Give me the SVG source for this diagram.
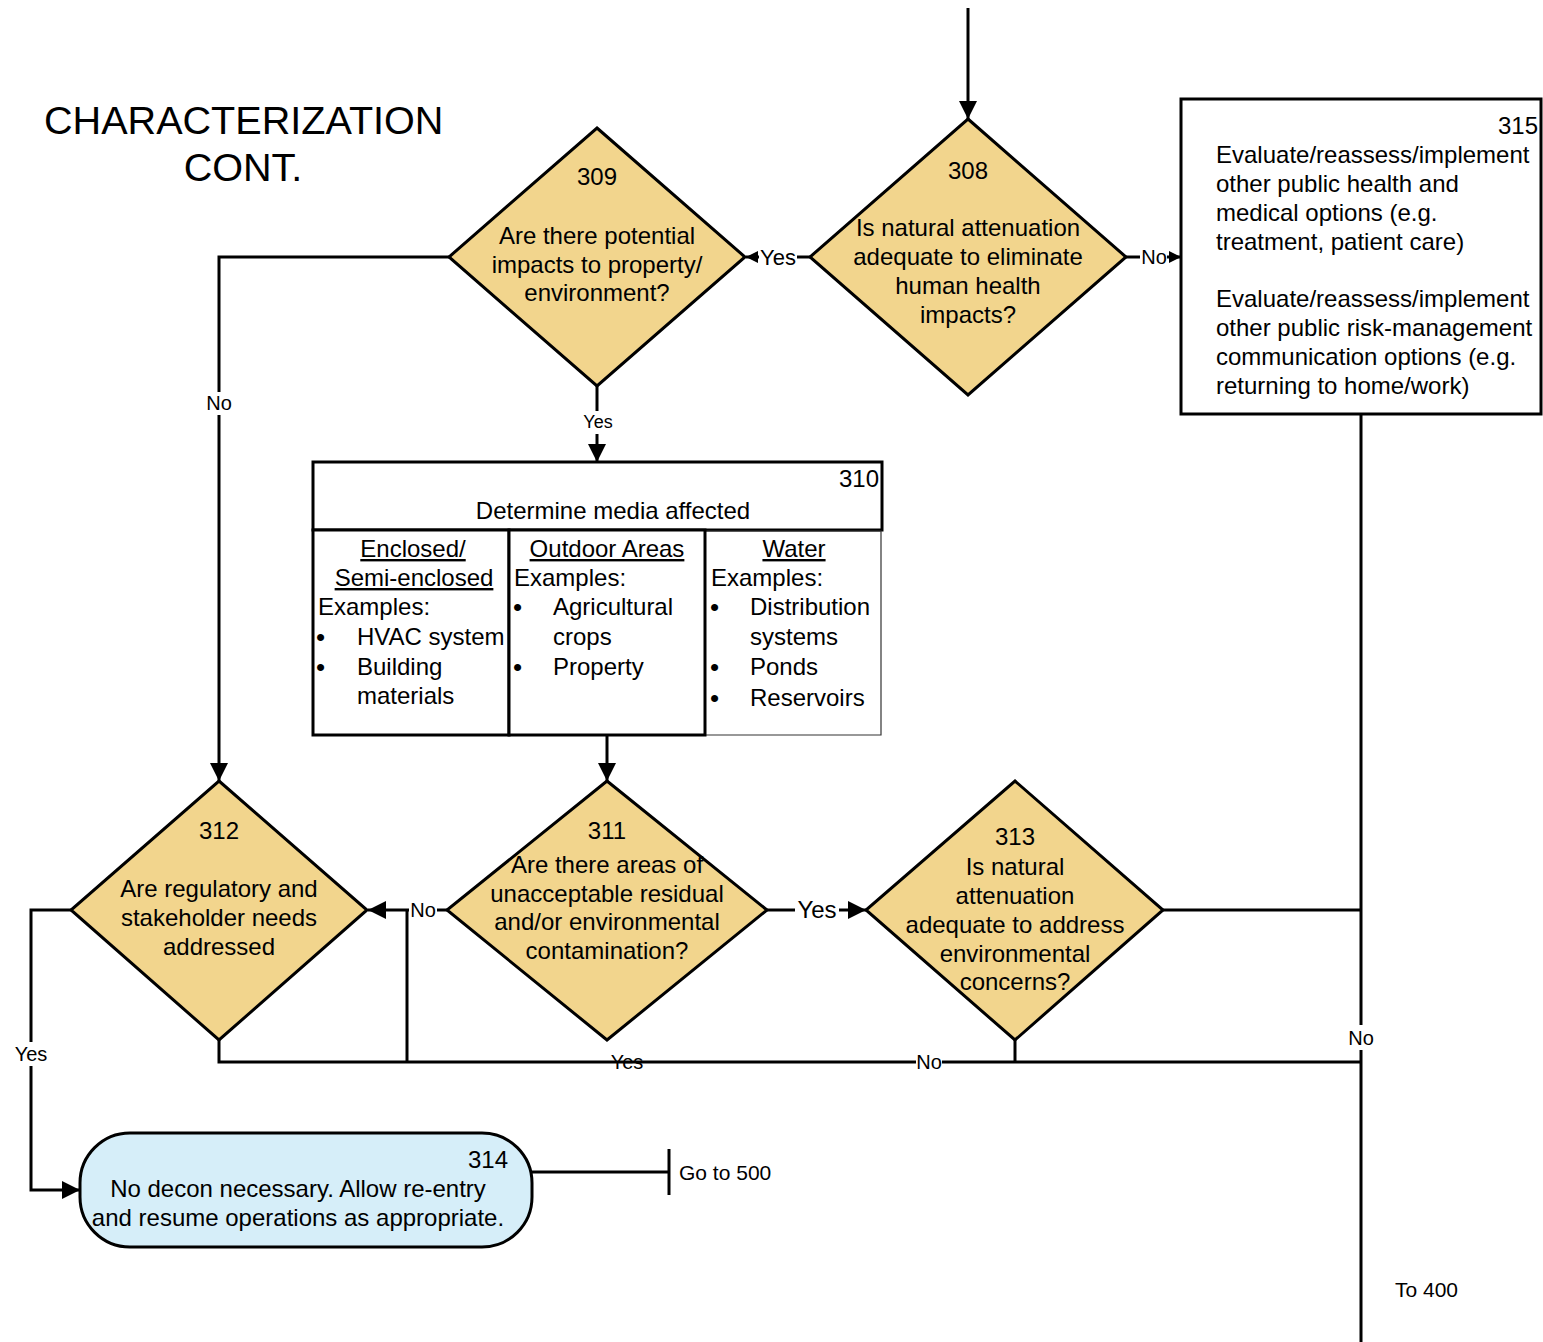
<svg xmlns="http://www.w3.org/2000/svg" width="1543" height="1342" viewBox="0 0 1543 1342">
  <style>
    text { font-family: "Liberation Sans", Arial, sans-serif; fill: #000; }
    .t24 { font-size: 24px; }
    .c { text-anchor: middle; }
    .r { text-anchor: end; }
    .lbl { font-size: 20px; text-anchor: middle; }
    .u { text-decoration: underline; }
    .bul { font-size: 26px; }
    .dia { fill: #F2D58D; stroke: #000; stroke-width: 3; }
    .box { fill: #fff; stroke: #000; stroke-width: 3; }
    .term { fill: #D6EEF9; stroke: #000; stroke-width: 3; }
    .ln { fill: none; stroke: #000; stroke-width: 3; }
    .arr { fill: none; stroke: #000; stroke-width: 3; marker-end: url(#ah); }
    .arrs { fill: none; stroke: #000; stroke-width: 3; marker-end: url(#ahs); }
  </style>
  <defs>
    <marker id="ah" viewBox="0 0 18 18" refX="18" refY="9" markerWidth="18" markerHeight="18" markerUnits="userSpaceOnUse" orient="auto">
      <path d="M0,0 L18,9 L0,18 Z" fill="#000"/>
    </marker>
    <marker id="ahs" viewBox="0 0 12 12" refX="12" refY="6" markerWidth="12" markerHeight="12" markerUnits="userSpaceOnUse" orient="auto">
      <path d="M0,0 L12,6 L0,12 Z" fill="#000"/>
    </marker>
  </defs>

  <!-- Heading -->
  <g id="title">
    <text x="44" y="134" font-size="39.6">CHARACTERIZATION</text>
    <text x="243" y="181" font-size="39.6" class="c">CONT.</text>
  </g>

  <!-- Connectors -->
  <g id="connectors">
    <path class="arr" d="M968,8 V119"/>
    <!-- 308 Yes to 309 -->
    <path class="ln" d="M810,257 H797"/>
    <path class="arrs" d="M759,257 H746"/>
    <!-- 308 No to 315 -->
    <path class="ln" d="M1126,257 H1140"/>
    <path class="arrs" d="M1167,257 H1181"/>
    <!-- 309 No to 312 -->
    <path class="ln" d="M449,257 H219 V392"/>
    <path class="arr" d="M219,415 V781"/>
    <!-- 309 Yes to 310 -->
    <path class="ln" d="M597,386 V411"/>
    <path class="arr" d="M597,434 V462"/>
    <!-- 310 to 311 -->
    <path class="arr" d="M607,735 V781"/>
    <!-- 311 No to 312 -->
    <path class="ln" d="M447,910 H437"/>
    <path class="arr" d="M409,910 H368"/>
    <path class="ln" d="M407,910 V1062"/>
    <!-- 311 Yes to 313 -->
    <path class="ln" d="M767,910 H795"/>
    <path class="arr" d="M839,910 H866"/>
    <!-- 312 Yes to 314 -->
    <path class="ln" d="M71,910 H31 V1042"/>
    <path class="arr" d="M31,1066 V1190 H80"/>
    <!-- bottom collector -->
    <path class="ln" d="M219,1040 V1062 H916"/>
    <path class="ln" d="M942,1062 H1361"/>
    <path class="ln" d="M1015,1040 V1062"/>
    <!-- 313 out and 315 down -->
    <path class="ln" d="M1163,910 H1361"/>
    <path class="ln" d="M1361,414 V1025"/>
    <path class="ln" d="M1361,1050 V1342"/>
    <!-- 314 to off-page -->
    <path class="ln" d="M532,1172 H669"/>
    <path class="ln" d="M669,1149 V1195"/>

    <text x="778" y="265" font-size="22" class="c">Yes</text>
    <text x="1154" y="264" class="lbl">No</text>
    <text x="219" y="410" class="lbl">No</text>
    <text x="598" y="428" font-size="18" class="c">Yes</text>
    <text x="423" y="917" class="lbl">No</text>
    <text x="817" y="918" class="t24 c">Yes</text>
    <text x="31" y="1061" class="lbl">Yes</text>
    <text x="627" y="1069" class="lbl">Yes</text>
    <text x="929" y="1069" class="lbl">No</text>
    <text x="1361" y="1045" class="lbl">No</text>
    <text x="679" y="1180" font-size="21">Go to 500</text>
    <text x="1395" y="1297" font-size="21">To 400</text>
  </g>

  <!-- 308 -->
  <g id="n308">
    <polygon class="dia" points="968,119 1126,257 968,395 810,257"/>
    <text class="t24 c" x="968" y="179">308</text>
    <text class="t24 c" x="968" y="236">Is natural attenuation</text>
    <text class="t24 c" x="968" y="265">adequate to eliminate</text>
    <text class="t24 c" x="968" y="294">human health</text>
    <text class="t24 c" x="968" y="323">impacts?</text>
  </g>

  <!-- 309 -->
  <g id="n309">
    <polygon class="dia" points="597,128 745,257 597,386 449,257"/>
    <text class="t24 c" x="597" y="185">309</text>
    <text class="t24 c" x="597" y="244">Are there potential</text>
    <text class="t24 c" x="597" y="272.5">impacts to property/</text>
    <text class="t24 c" x="597" y="301">environment?</text>
  </g>

  <!-- 315 -->
  <g id="n315">
    <rect class="box" x="1181" y="99" width="360" height="315"/>
    <text class="t24 r" x="1538" y="134">315</text>
    <text class="t24" x="1216" y="163">Evaluate/reassess/implement</text>
    <text class="t24" x="1216" y="192">other public health and</text>
    <text class="t24" x="1216" y="221">medical options (e.g.</text>
    <text class="t24" x="1216" y="250">treatment, patient care)</text>
    <text class="t24" x="1216" y="307">Evaluate/reassess/implement</text>
    <text class="t24" x="1216" y="336">other public risk-management</text>
    <text class="t24" x="1216" y="365">communication options (e.g.</text>
    <text class="t24" x="1216" y="394">returning to home/work)</text>
  </g>

  <!-- 310 -->
  <g id="n310">
    <rect class="box" x="313" y="462" width="569" height="68"/>
    <text class="t24 r" x="879" y="487">310</text>
    <text class="t24 c" x="613" y="519">Determine media affected</text>
    <path d="M705,531 H881 V735 H705" fill="none" stroke="#333" stroke-width="1.2"/>
    <rect class="box" x="313" y="530" width="196" height="205" fill="none"/>
    <rect class="box" x="509" y="530" width="196" height="205" fill="none"/>

    <text class="t24 c u" x="413" y="557">Enclosed/</text>
    <text class="t24 c u" x="414" y="586">Semi-enclosed</text>
    <text class="t24" x="318" y="615">Examples:</text>
    <text class="bul" x="316" y="646">•</text>
    <text class="t24" x="357" y="645">HVAC system</text>
    <text class="bul" x="316" y="676">•</text>
    <text class="t24" x="357" y="675">Building</text>
    <text class="t24" x="357" y="704">materials</text>

    <text class="t24 c u" x="607" y="557">Outdoor Areas</text>
    <text class="t24" x="514" y="586">Examples:</text>
    <text class="bul" x="513" y="616">•</text>
    <text class="t24" x="553" y="615">Agricultural</text>
    <text class="t24" x="553" y="645">crops</text>
    <text class="bul" x="513" y="676">•</text>
    <text class="t24" x="553" y="675">Property</text>

    <text class="t24 c u" x="794" y="557">Water</text>
    <text class="t24" x="711" y="586">Examples:</text>
    <text class="bul" x="710" y="616">•</text>
    <text class="t24" x="750" y="615">Distribution</text>
    <text class="t24" x="750" y="645">systems</text>
    <text class="bul" x="710" y="676">•</text>
    <text class="t24" x="750" y="675">Ponds</text>
    <text class="bul" x="710" y="707">•</text>
    <text class="t24" x="750" y="706">Reservoirs</text>
  </g>

  <!-- 312 -->
  <g id="n312">
    <polygon class="dia" points="219,781 367,910 219,1040 71,910"/>
    <text class="t24 c" x="219" y="839">312</text>
    <text class="t24 c" x="219" y="897">Are regulatory and</text>
    <text class="t24 c" x="219" y="926">stakeholder needs</text>
    <text class="t24 c" x="219" y="955">addressed</text>
  </g>

  <!-- 311 -->
  <g id="n311">
    <polygon class="dia" points="607,781 767,910 607,1040 447,910"/>
    <text class="t24 c" x="607" y="839">311</text>
    <text class="t24 c" x="607" y="873">Are there areas of</text>
    <text class="t24 c" x="607" y="901.5">unacceptable residual</text>
    <text class="t24 c" x="607" y="930">and/or environmental</text>
    <text class="t24 c" x="607" y="959">contamination?</text>
  </g>

  <!-- 313 -->
  <g id="n313">
    <polygon class="dia" points="1015,781 1163,910 1015,1040 866,910"/>
    <text class="t24 c" x="1015" y="845">313</text>
    <text class="t24 c" x="1015" y="875">Is natural</text>
    <text class="t24 c" x="1015" y="904">attenuation</text>
    <text class="t24 c" x="1015" y="933">adequate to address</text>
    <text class="t24 c" x="1015" y="961.5">environmental</text>
    <text class="t24 c" x="1015" y="990">concerns?</text>
  </g>

  <!-- 314 -->
  <g id="n314">
    <rect class="term" x="80" y="1133" width="452" height="114" rx="50" ry="50"/>
    <text class="t24 r" x="508" y="1168">314</text>
    <text class="t24 c" x="298" y="1197">No decon necessary. Allow re-entry</text>
    <text class="t24 c" x="298" y="1226">and resume operations as appropriate.</text>
  </g>
</svg>
